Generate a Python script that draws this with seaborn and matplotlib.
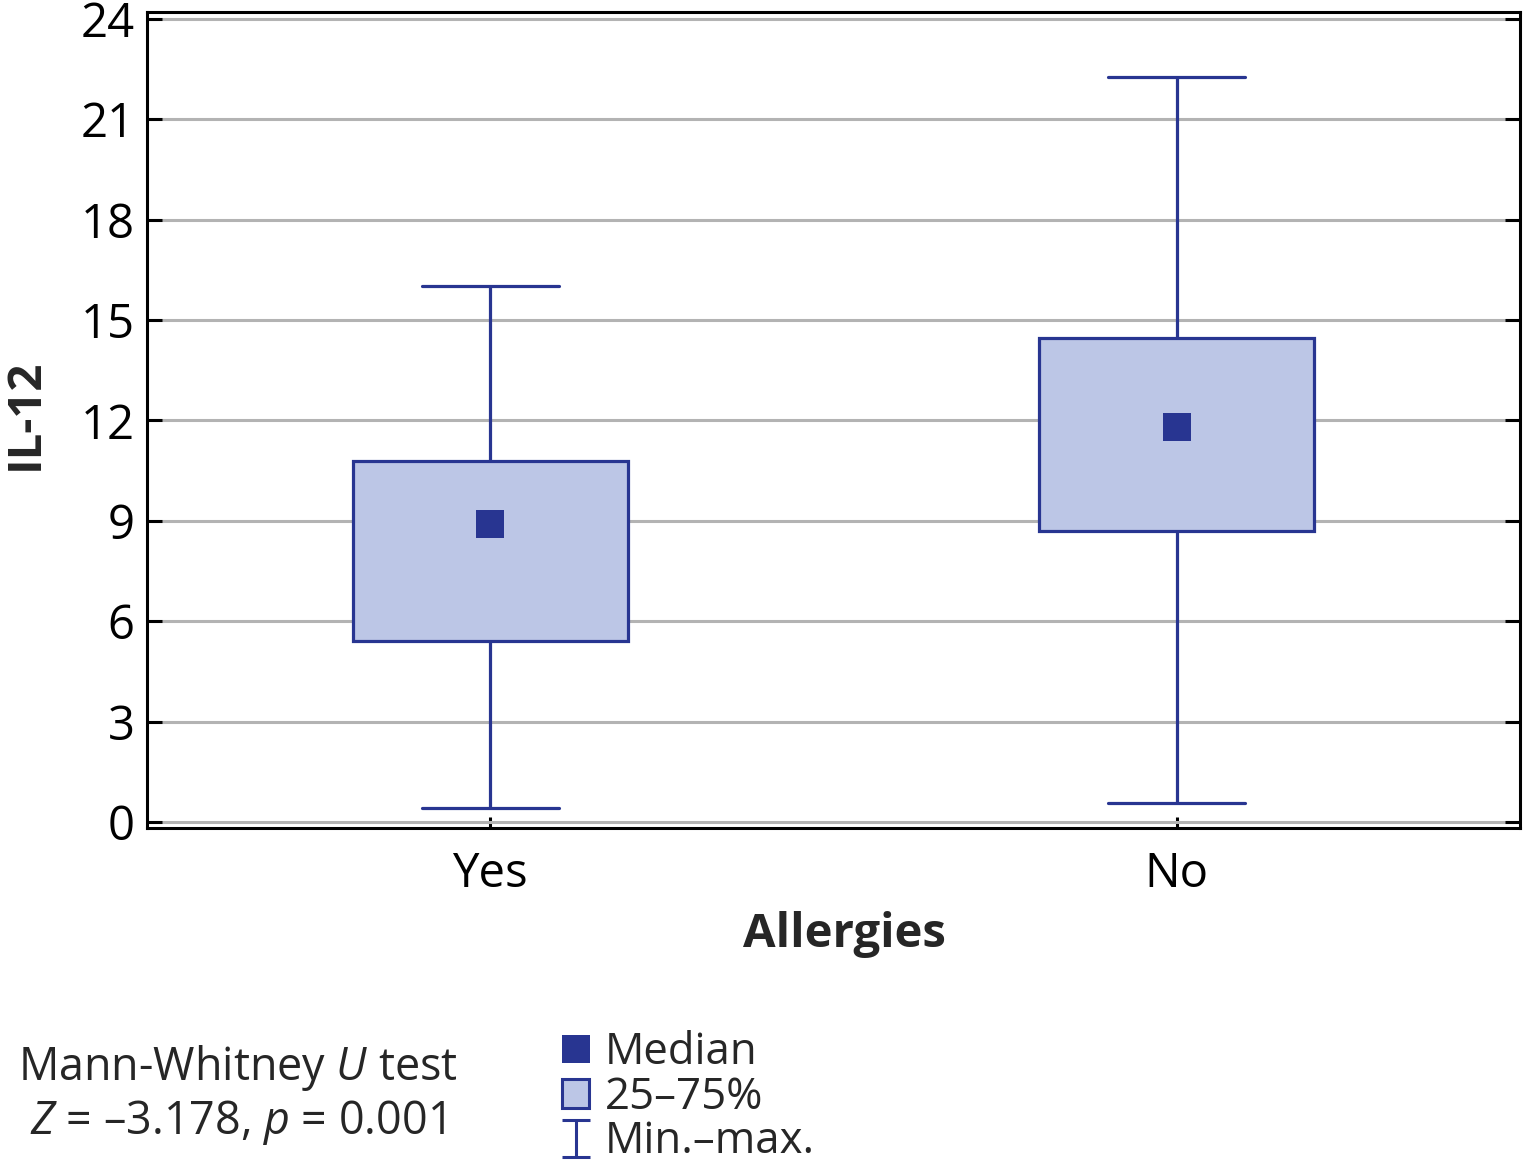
import pandas as pd
import seaborn as sns
import matplotlib.pyplot as plt
from matplotlib.lines import Line2D
from matplotlib.patches import Patch
from matplotlib.collections import LineCollection
from matplotlib.container import ErrorbarContainer
from matplotlib.legend_handler import HandlerErrorbar

# colours
dark_blue = "#283591"
light_blue = "#bcc6e6"
grid_grey = "#b3b3b3"

# values
groups = ["Yes", "No"]
mins = [0.42, 0.57]
q1s = [5.4, 8.7]
medians = [8.9, 11.8]
q3s = [10.8, 14.45]
maxs = [16.0, 22.25]
y_ticks = [0, 3, 6, 9, 12, 15, 18, 21, 24]

# five points per group -> quartiles / min-max exactly as read
rows = []
for g, a, b, c, d, e in zip(groups, mins, q1s, medians, q3s, maxs):
    for v in (a, b, c, d, e):
        rows.append({"Allergies": g, "IL-12": v})
df = pd.DataFrame(rows)
med_df = pd.DataFrame({"Allergies": groups, "IL-12": medians})

sns.set_style("white")
plt.rcParams["font.family"] = ["Open Sans", "DejaVu Sans"]
plt.rcParams["mathtext.fontset"] = "custom"
plt.rcParams["mathtext.it"] = "Open Sans:italic"
plt.rcParams["mathtext.rm"] = "Open Sans"

fig = plt.figure(figsize=(15.23, 11.70), dpi=100)
ax = fig.add_axes([0.0965, 0.2923, 0.9015, 0.6974])

sns.boxplot(data=df, x="Allergies", y="IL-12", order=groups, whis=(0, 100),
            width=0.4, color=light_blue, saturation=1, linecolor=dark_blue,
            linewidth=2.3, showfliers=False,
            medianprops={"linewidth": 0}, ax=ax, zorder=3)
sns.scatterplot(data=med_df, x="Allergies", y="IL-12", marker="s", s=430,
                color=dark_blue, linewidth=0, ax=ax, zorder=4)

ax.set_xlim(-0.5, 1.5)
ax.set_ylim(-0.18, 24.2)
ax.set_yticks(y_ticks)
ax.yaxis.grid(True, color=grid_grey, linewidth=2.2)
ax.xaxis.grid(False)
ax.set_axisbelow(True)
for sp in ax.spines.values():
    sp.set_color("black")
    sp.set_linewidth(2.2)
ax.tick_params(axis="y", direction="in", length=11, width=2.2, left=True,
               right=True, labelsize=34, pad=9, colors="black")
ax.tick_params(axis="x", direction="in", length=8, width=2.2, bottom=True,
               labelsize=34, pad=16, colors="black")

ax.set_xlabel("Allergies", fontsize=34, fontweight="bold")
ax.set_ylabel("IL-12", fontsize=34, fontweight="bold")
ax.xaxis.set_label_coords(0.508, -0.131)
ax.xaxis.label.set_va("center")
ax.yaxis.set_label_coords(-0.089, 0.507)
ax.yaxis.label.set_va("center")

# statistics note
fig.text(0.156, 0.064, "Mann-Whitney $U$ test\n$Z$ = –3.178, $p$ = 0.001",
         ha="center", va="center", fontsize=32.3, linespacing=1.15)

# legend
h_med = Line2D([], [], linestyle="none", marker="s", markersize=20,
               color=dark_blue, markeredgewidth=0)
h_box = Patch(facecolor=light_blue, edgecolor=dark_blue, linewidth=2.2)
cap = Line2D([], [], linestyle="none", marker="_", markersize=20,
             color=dark_blue, markeredgewidth=2.2)
bars = LineCollection([], colors=dark_blue, linewidths=2.2)
h_rng = ErrorbarContainer((None, (cap, cap), (bars,)), has_xerr=False, has_yerr=True)
fig.legend([h_med, h_box, h_rng], ["Median", "25–75%", "Min.–max."],
           loc="upper left", bbox_to_anchor=(0.369, 0.119), frameon=False,
           fontsize=31.5, handlelength=0.62, handleheight=0.62,
           handletextpad=0.35, labelspacing=0.0, borderpad=0, borderaxespad=0,
           handler_map={ErrorbarContainer: HandlerErrorbar(xerr_size=0.42)})

fig.savefig("out.png", dpi=100)
